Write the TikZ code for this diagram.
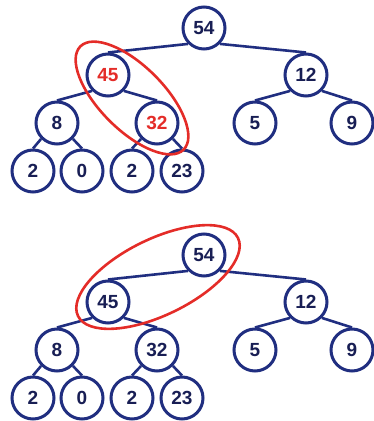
\documentclass[tikz,border=0pt]{standalone}
\usepackage{fontspec}
\setmainfont{Liberation Sans}
\usepackage{tikz}

\definecolor{heapblue}{RGB}{32,46,128}
\definecolor{heaptext}{RGB}{24,30,84}
\definecolor{heapred}{RGB}{228,44,40}

\tikzset{
  key/.style={circle,draw=heapblue,line width=3pt,fill=white,minimum size=42pt,inner sep=0pt,
    font=\bfseries\fontsize{19}{19}\selectfont,text=heaptext},
  hot/.style={text=heapred},
  link/.style={draw=heapblue,line width=2.6pt},
  swap/.style={draw=heapred,line width=2.6pt}
}

\begin{document}
\begin{tikzpicture}[x=1pt,y=1pt]
        \useasboundingbox (0,0) rectangle (374,421);
        % before the swap
        \node[key] (a1) at (204,393) {54};
        \node[key,hot] (a2) at (108,346) {45};
        \node[key] (a3) at (306,346) {12};
        \node[key] (a4) at (57,298) {8};
        \node[key,hot] (a5) at (157,298) {32};
        \node[key] (a6) at (255,298) {5};
        \node[key] (a7) at (352,298) {9};
        \node[key] (a8) at (33,250) {2};
        \node[key] (a9) at (82,250) {0};
        \node[key] (a10) at (132,250) {2};
        \node[key] (a11) at (182,250) {23};
        % after the swap
        \node[key] (b1) at (204,166) {54};
        \node[key] (b2) at (108,119) {45};
        \node[key] (b3) at (306,119) {12};
        \node[key] (b4) at (57,71) {8};
        \node[key] (b5) at (157,71) {32};
        \node[key] (b6) at (255,71) {5};
        \node[key] (b7) at (352,71) {9};
        \node[key] (b8) at (33,23) {2};
        \node[key] (b9) at (82,23) {0};
        \node[key] (b10) at (132,23) {2};
        \node[key] (b11) at (182,23) {23};
        % edges
        \foreach \t in {a,b} {
          \draw[link] (\t1.south west) -- (\t2.north);
          \draw[link] (\t1.south east) -- (\t3.north);
          \draw[link] (\t2.south west) -- (\t4.north);
          \draw[link] (\t2.south east) -- (\t5.north);
          \draw[link] (\t3.south west) -- (\t6.north);
          \draw[link] (\t3.south east) -- (\t7.north);
          \draw[link] (\t4.south west) -- (\t8.north);
          \draw[link] (\t4.south east) -- (\t9.north);
          \draw[link] (\t5.south west) -- (\t10.north);
          \draw[link] (\t5.south east) -- (\t11.north);
        }
        \draw[swap,rotate around={-45:(132,323)}] (132,323) ellipse [x radius=73, y radius=32];
        \draw[swap,rotate around={26:(158,144)}] (158,144) ellipse [x radius=89, y radius=38];
\end{tikzpicture}
\end{document}
